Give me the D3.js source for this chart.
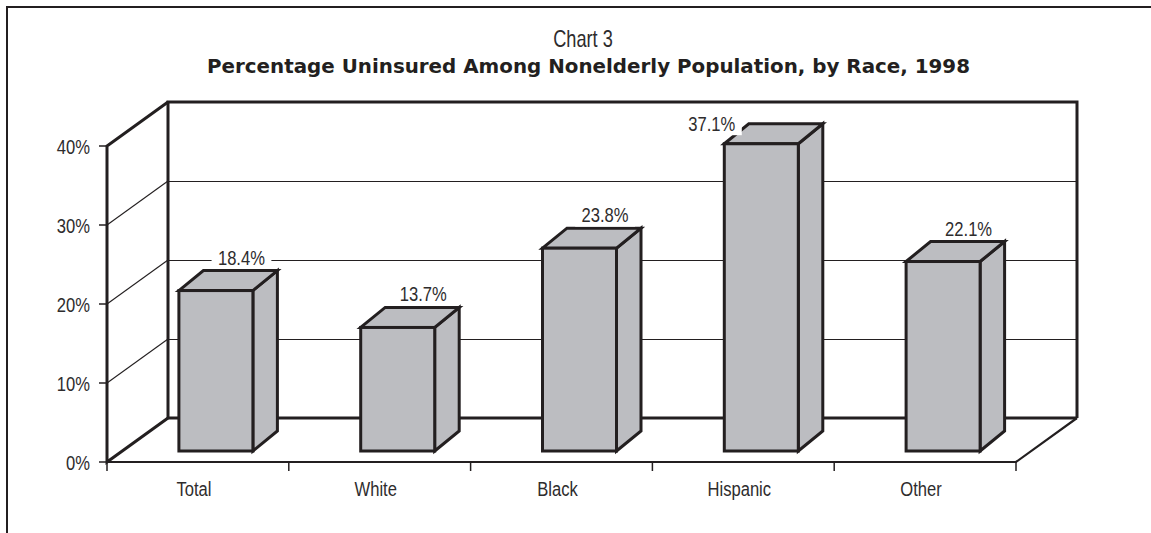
<!DOCTYPE html>
<html>
<head>
<meta charset="utf-8">
<script src="https://cdn.jsdelivr.net/npm/d3@7"></script>
<style>
  html, body { margin: 0; padding: 0; background: #fff; }
  svg { display: block; }
</style>
</head>
<body>
<svg id="chart" width="1151" height="533"></svg>
<script>
// ---- data ----
const categories = ["Total", "White", "Black", "Hispanic", "Other"];
const values = [18.4, 13.7, 23.8, 37.1, 22.1];
const valueLabels = ["18.4%", "13.7%", "23.8%", "37.1%", "22.1%"];
const yTicks = [0, 10, 20, 30, 40];
const yTickLabels = ["0%", "10%", "20%", "30%", "40%"];
const chartLabel = "Chart 3";
const chartTitle = "Percentage Uninsured Among Nonelderly Population, by Race, 1998";

// ---- layout ----
const W = 1151, H = 533;
const INK = "#231f20";
const TEXT = "#2e2c2d";
const BAR_FILL = "#bcbdc1";
const FONT = "'Liberation Sans', Arial, sans-serif";
const NARROW = 0.79;   // condensed look of the original typeface
const FS = 21;

const svg = d3.select("#chart");

function narrowText(parent, px, py, str, size, anchor, dy) {
  const g = parent.append("g")
    .attr("transform", `translate(${px},${py}) scale(${NARROW},1)`);
  const t = g.append("text")
    .attr("x", 0).attr("y", 0)
    .attr("text-anchor", anchor || "start")
    .attr("font-family", FONT).attr("font-size", size)
    .attr("fill", TEXT)
    .text(str);
  if (dy) t.attr("dy", dy);
  return g;
}
const snap = v => Math.round(v) + 0.5;

// projection of the 3D box
const depth = { dx: 61, dy: -44 };
const barDepth = { dx: 24.5, dy: -20 };
const barInset = { dx: 18, dy: -11 };

const x = d3.scaleBand().domain(categories).range([107, 1016]).paddingInner(0).paddingOuter(0);
const yFront = d3.scaleLinear().domain([0, 40]).range([462, 146]);
const yBack = v => yFront(v) + depth.dy;
const xFront0 = x.range()[0], xFront1 = x.range()[1];
const xBack0 = xFront0 + depth.dx, xBack1 = xFront1 + depth.dx;

const barFloor = yFront(0) + barInset.dy;
const barScale = d3.scaleLinear().domain([0, 40]).range([barFloor - 16, barFloor - 16 - 314]);
const barW = 74;

// ---- outer frame (top & left) ----
svg.append("path")
  .attr("d", `M7,${H} L7,7 L${W},7`)
  .attr("fill", "none").attr("stroke", INK).attr("stroke-width", 2);

// ---- titles ----
narrowText(svg, 583, 47, chartLabel, 23, "middle");

svg.append("text")
  .attr("x", 207).attr("y", 73)
  .attr("textLength", 763).attr("lengthAdjust", "spacingAndGlyphs")
  .attr("font-family", "'DejaVu Sans', Verdana, sans-serif")
  .attr("font-weight", "bold").attr("font-size", 19)
  .attr("fill", INK)
  .text(chartTitle);

// ---- back wall gridlines ----
const grid = svg.append("g");
yTicks.filter(v => v > 0 && v < 40).forEach(v => {
  grid.append("line")
    .attr("x1", xBack0).attr("x2", xBack1)
    .attr("y1", snap(yBack(v))).attr("y2", snap(yBack(v)))
    .attr("stroke", INK).attr("stroke-width", 1.1);
  grid.append("line")
    .attr("x1", xFront0).attr("y1", yFront(v))
    .attr("x2", xBack0).attr("y2", yBack(v))
    .attr("stroke", INK).attr("stroke-width", 1.1);
});

// ---- thick wall outlines ----
const walls = svg.append("g").attr("fill", "none").attr("stroke", INK).attr("stroke-linejoin", "miter");
walls.append("path")
  .attr("d", `M${xBack0},${yBack(0)} L${xBack0},${yBack(40)} L${xBack1},${yBack(40)} L${xBack1},${yBack(0)}`)
  .attr("stroke-width", 3);
walls.append("line")
  .attr("x1", xBack0).attr("x2", xBack1).attr("y1", yBack(0)).attr("y2", yBack(0))
  .attr("stroke-width", 3.2);
walls.append("path")
  .attr("d", `M${xBack0},${yBack(40)} L${xFront0},${yFront(40)} L${xFront0},${yFront(0)} L${xBack0},${yBack(0)}`)
  .attr("stroke-width", 3);
walls.append("path")
  .attr("d", `M${xFront0},${yFront(0)} L${xFront1},${yFront(0)} L${xBack1},${yBack(0)}`)
  .attr("stroke-width", 2.2);

// ---- axis ticks ----
const yAxis = svg.append("g");
yTicks.forEach((v, i) => {
  yAxis.append("line")
    .attr("x1", xFront0 - 8).attr("x2", xFront0)
    .attr("y1", yFront(v)).attr("y2", yFront(v))
    .attr("stroke", INK).attr("stroke-width", 1.5);
  narrowText(yAxis, xFront0 - 17, yFront(v), yTickLabels[i], FS, "end", "0.36em");
});

const xAxis = svg.append("g");
const xTickPos = categories.map(c => x(c)).concat([xFront1]);
xTickPos.forEach(px => {
  xAxis.append("line")
    .attr("x1", px).attr("x2", px)
    .attr("y1", yFront(0)).attr("y2", yFront(0) + 9)
    .attr("stroke", INK).attr("stroke-width", 1.5);
});
categories.forEach(c => {
  narrowText(xAxis, x(c) + x.bandwidth() / 2 - 4, 496, c, FS, "middle");
});

// ---- bars ----
const bars = svg.append("g");
const labels = svg.append("g");
const wallTop = yBack(40);
categories.forEach((c, i) => {
  const v = values[i];
  const x0 = x(c) + x.bandwidth() / 2 - barW / 2 + barInset.dx;
  const x1 = x0 + barW;
  const yTop = barScale(v);
  const yBot = barFloor;
  const g = bars.append("g")
    .attr("fill", BAR_FILL).attr("stroke", INK)
    .attr("stroke-width", 3).attr("stroke-linejoin", "miter");
  g.append("path")
    .attr("d", `M${x1},${yTop} L${x1 + barDepth.dx},${yTop + barDepth.dy} L${x1 + barDepth.dx},${yBot + barDepth.dy} L${x1},${yBot} Z`);
  g.append("path")
    .attr("d", `M${x0},${yTop} L${x0 + barDepth.dx},${yTop + barDepth.dy} L${x1 + barDepth.dx},${yTop + barDepth.dy} L${x1},${yTop} Z`);
  g.append("rect")
    .attr("x", x0).attr("y", yTop)
    .attr("width", barW).attr("height", yBot - yTop);

  const backTop = yTop + barDepth.dy;
  let lx, ly, anchor;
  if (backTop - 22 < wallTop) {
    lx = x0 + 11; ly = backTop + 7; anchor = "end";
  } else {
    lx = x1 + barDepth.dx - 36; ly = backTop - 6; anchor = "middle";
  }
  const lg = narrowText(labels, lx, ly, valueLabels[i], FS, anchor);
  const bb = lg.node().getBBox();
  lg.insert("rect", "text")
    .attr("x", bb.x - 8).attr("y", bb.y)
    .attr("width", bb.width + 16).attr("height", bb.height)
    .attr("fill", "#fff");
});
</script>
</body>
</html>
